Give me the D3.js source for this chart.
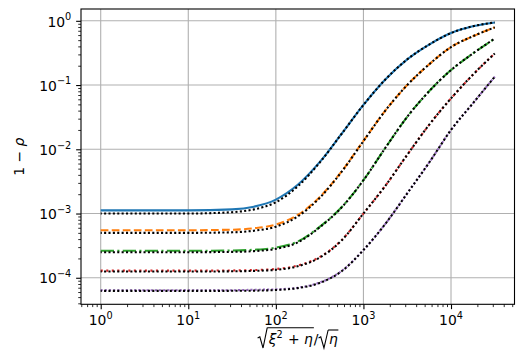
<!DOCTYPE html>
<html>
<head>
<meta charset="utf-8">
<script src="https://cdn.jsdelivr.net/npm/d3@7"></script>
<style>
  html, body { margin: 0; padding: 0; background: #fff; }
  svg { display: block; font-family: "DejaVu Sans", sans-serif; }
  svg text { white-space: pre; }
</style>
</head>
<body>
<svg id="chart" width="527" height="359"></svg>
<script>
// ── data ────────────────────────────────────────────────────
const xVals = [1, 3.162, 10, 31.62, 56.23, 100, 177.8, 316.2, 562.3, 1000, 1778, 3162, 5623, 10000, 17783, 31623];

const blueVals   = [1.12e-3, 1.12e-3, 1.12e-3, 1.16e-3, 1.28e-3, 1.65e-3, 2.8e-3, 6.3e-3, 0.0174, 0.049, 0.122, 0.251, 0.427, 0.646, 0.822, 0.944];
const orangeVals = [5.5e-4, 5.5e-4, 5.5e-4, 5.6e-4, 5.9e-4, 6.75e-4, 9.5e-4, 1.8e-3, 4.5e-3, 0.0135, 0.04, 0.10, 0.21, 0.39, 0.575, 0.79];
const greenVals  = [2.63e-4, 2.63e-4, 2.63e-4, 2.66e-4, 2.73e-4, 2.95e-4, 3.66e-4, 6.2e-4, 1.25e-3, 3.3e-3, 0.0105, 0.032, 0.08, 0.171, 0.31, 0.53];
const redVals    = [1.29e-4, 1.29e-4, 1.29e-4, 1.30e-4, 1.32e-4, 1.37e-4, 1.55e-4, 2.1e-4, 3.85e-4, 1.0e-3, 2.7e-3, 8.2e-3, 0.024, 0.062, 0.145, 0.311];
const purpleVals = [6.4e-5, 6.4e-5, 6.4e-5, 6.4e-5, 6.5e-5, 6.6e-5, 7.0e-5, 8.4e-5, 1.27e-4, 2.7e-4, 6.9e-4, 2.06e-3, 6.2e-3, 0.02, 0.052, 0.135];

// black dotted approximations drawn over each curve
const blueApprox   = [1.0e-3, 1.0e-3, 1.0e-3, 1.05e-3, 1.16e-3, 1.5e-3, 2.65e-3, 6.2e-3, 0.0173, 0.049, 0.122, 0.251, 0.427, 0.646, 0.822, 0.944];
const orangeApprox = [5.0e-4, 5.0e-4, 5.0e-4, 5.1e-4, 5.4e-4, 6.25e-4, 9.0e-4, 1.75e-3, 4.45e-3, 0.0134, 0.04, 0.10, 0.21, 0.39, 0.575, 0.79];
const greenApprox  = [2.5e-4, 2.5e-4, 2.5e-4, 2.53e-4, 2.6e-4, 2.82e-4, 3.55e-4, 6.1e-4, 1.24e-3, 3.3e-3, 0.0105, 0.032, 0.08, 0.171, 0.31, 0.53];
const redApprox    = [1.25e-4, 1.25e-4, 1.25e-4, 1.26e-4, 1.28e-4, 1.33e-4, 1.51e-4, 2.06e-4, 3.8e-4, 1.0e-3, 2.7e-3, 8.2e-3, 0.024, 0.062, 0.145, 0.311];
const purpleApprox = [6.25e-5, 6.25e-5, 6.25e-5, 6.26e-5, 6.3e-5, 6.45e-5, 6.9e-5, 8.3e-5, 1.26e-4, 2.7e-4, 6.9e-4, 2.06e-3, 6.2e-3, 0.02, 0.052, 0.135];

const xTickExps = [0, 1, 2, 3, 4];
const yTickExps = [-4, -3, -2, -1, 0];

// ── layout ──────────────────────────────────────────────────
const W = 527, H = 359;
const M = { left: 81, top: 9, right: 12.5, bottom: 54.7 };
const FS = 13.9;          // 10pt @ 100dpi
const LW = 2.08;          // 1.5pt

const series = [
  { vals: blueVals,   approx: blueApprox,   color: '#1f77b4', dash: null },
  { vals: orangeVals, approx: orangeApprox, color: '#ff7f0e', dash: '7.7,3.33' },
  { vals: greenVals,  approx: greenApprox,  color: '#2ca02c', dash: '13.3,3.33,2.08,3.33' },
  { vals: redVals,    approx: redApprox,    color: '#d62728', dash: '2.08,3.44' },
  { vals: purpleVals, approx: purpleApprox, color: '#9467bd', dash: '2.08,2.08' },
];

// matplotlib-style 5% margins in log space
const lx = d3.extent(xVals).map(Math.log10);
const allY = series.flatMap(s => s.vals.concat(s.approx));
const ly = d3.extent(allY).map(Math.log10);
const mx = (lx[1] - lx[0]) * 0.05, my = (ly[1] - ly[0]) * 0.05;

const x = d3.scaleLog().domain([10 ** (lx[0] - mx), 10 ** (lx[1] + mx)]).range([M.left, W - M.right]);
const y = d3.scaleLog().domain([10 ** (ly[0] - my), 10 ** (ly[1] + my)]).range([H - M.bottom, M.top]);

const svg = d3.select('#chart');

const minorsOf = sc => {
  const [a, b] = sc.domain();
  const out = [];
  for (let e = Math.floor(Math.log10(a)); e <= Math.ceil(Math.log10(b)); e++)
    for (let k = 2; k <= 9; k++) {
      const v = k * 10 ** e;
      if (v >= a && v <= b) out.push(v);
    }
  return out;
};
const xMajors = xTickExps.map(e => 10 ** e);
const yMajors = yTickExps.map(e => 10 ** e);

// grid
const grid = svg.append('g').attr('stroke', '#b0b0b0').attr('stroke-width', 1.1);
xMajors.forEach(v => grid.append('line')
  .attr('x1', x(v)).attr('x2', x(v)).attr('y1', M.top).attr('y2', H - M.bottom));
yMajors.forEach(v => grid.append('line')
  .attr('x1', M.left).attr('x2', W - M.right).attr('y1', y(v)).attr('y2', y(v)));

// curves
const line = d3.line().x(d => x(d[0])).y(d => y(d[1])).curve(d3.curveMonotoneX);
series.forEach(s => {
  svg.append('path')
    .attr('d', line(xVals.map((v, i) => [v, s.vals[i]])))
    .attr('fill', 'none').attr('stroke', s.color).attr('stroke-width', LW)
    .attr('stroke-dasharray', s.dash);
  svg.append('path')
    .attr('d', line(xVals.map((v, i) => [v, s.approx[i]])))
    .attr('fill', 'none').attr('stroke', '#000').attr('stroke-width', LW)
    .attr('stroke-dasharray', '2.08,2.3').attr('stroke-dashoffset', 1);
});

// axes (ticks only, labels drawn as mathtext-like text)
const styleAxis = g => {
  g.select('.domain').remove();
  g.selectAll('.tick line').attr('stroke', '#000');
  g.selectAll('.tick text').remove();
};
svg.append('g').attr('transform', `translate(0,${H - M.bottom})`)
  .call(d3.axisBottom(x).tickValues(xMajors).tickSize(4.86).tickSizeOuter(0))
  .call(styleAxis).selectAll('.tick line').attr('stroke-width', 1.1);
svg.append('g').attr('transform', `translate(0,${H - M.bottom})`)
  .call(d3.axisBottom(x).tickValues(minorsOf(x)).tickSize(2.78).tickSizeOuter(0))
  .call(styleAxis).selectAll('.tick line').attr('stroke-width', 0.83);
svg.append('g').attr('transform', `translate(${M.left},0)`)
  .call(d3.axisLeft(y).tickValues(yMajors).tickSize(4.86).tickSizeOuter(0))
  .call(styleAxis).selectAll('.tick line').attr('stroke-width', 1.1);
svg.append('g').attr('transform', `translate(${M.left},0)`)
  .call(d3.axisLeft(y).tickValues(minorsOf(y)).tickSize(2.78).tickSizeOuter(0))
  .call(styleAxis).selectAll('.tick line').attr('stroke-width', 0.83);

// frame
svg.append('rect')
  .attr('x', M.left).attr('y', M.top)
  .attr('width', W - M.left - M.right).attr('height', H - M.top - M.bottom)
  .attr('fill', 'none').attr('stroke', '#000').attr('stroke-width', 1.1);

// tick labels 10^k
const pow10 = (sel, e) => {
  sel.append('tspan').text('10');
  sel.append('tspan').attr('font-size', FS * 0.7).attr('dy', -6.3)
    .text(e < 0 ? '\u2212' + (-e) : String(e));
};
xTickExps.forEach(e => {
  svg.append('text').attr('x', x(10 ** e)).attr('y', H - M.bottom + 21)
    .attr('text-anchor', 'middle').attr('font-size', FS).attr('fill', '#000')
    .call(pow10, e);
});
yTickExps.forEach(e => {
  svg.append('text').attr('x', M.left - 9.7).attr('y', y(10 ** e) + 5.7)
    .attr('text-anchor', 'end').attr('font-size', FS).attr('fill', '#000')
    .call(pow10, e);
});

// y label: 1 − ρ
const yl = svg.append('text')
  .attr('transform', `translate(23.5,${(M.top + H - M.bottom) / 2}) rotate(-90)`)
  .attr('text-anchor', 'middle').attr('font-size', FS).attr('fill', '#000');
yl.append('tspan').text('1 \u2212 ');
yl.append('tspan').attr('font-style', 'italic').text('\u03c1');

// x label: sqrt(xi^2 + eta) / sqrt(eta)
const xl = svg.append('g');
const base = 344;
let cx = 0;
const piece = (t, opt = {}) => {
  const el = xl.append('text').attr('x', cx).attr('y', base + (opt.dy || 0))
    .attr('font-size', opt.fs || FS).attr('fill', '#000')
    .attr('font-style', opt.italic ? 'italic' : null).text(t);
  const w = el.node().getComputedTextLength();
  cx += w;
  return w;
};
const radical = (x0, top) => {
  xl.append('path')
    .attr('d', `M${x0},${base - 6} L${x0 + 2.2},${base - 7.2} L${x0 + 5.4},${base + 4} L${x0 + 9.6},${top}`)
    .attr('fill', 'none').attr('stroke', '#000').attr('stroke-width', 1.1);
};
const r1x = cx; cx += 11;
const top1 = base - 16.3;
piece('\u03be', { italic: true });
piece('2', { fs: FS * 0.7, dy: -6.3 });
cx += 1;
piece(' + ');
piece('\u03b7', { italic: true });
const r1end = cx + 1;
radical(r1x, top1);
xl.append('line').attr('x1', r1x + 9.6).attr('x2', r1end).attr('y1', top1).attr('y2', top1)
  .attr('stroke', '#000').attr('stroke-width', 1.1);
cx += 1;
piece('/');
const r2x = cx; cx += 10.5;
const top2 = base - 14;
piece('\u03b7', { italic: true });
const r2end = cx + 0.5;
radical(r2x, top2);
xl.append('line').attr('x1', r2x + 9.6).attr('x2', r2end).attr('y1', top2).attr('y2', top2)
  .attr('stroke', '#000').attr('stroke-width', 1.1);
const midX = (M.left + W - M.right) / 2;
xl.attr('transform', `translate(${midX - cx / 2},0)`);
</script>
</body>
</html>
